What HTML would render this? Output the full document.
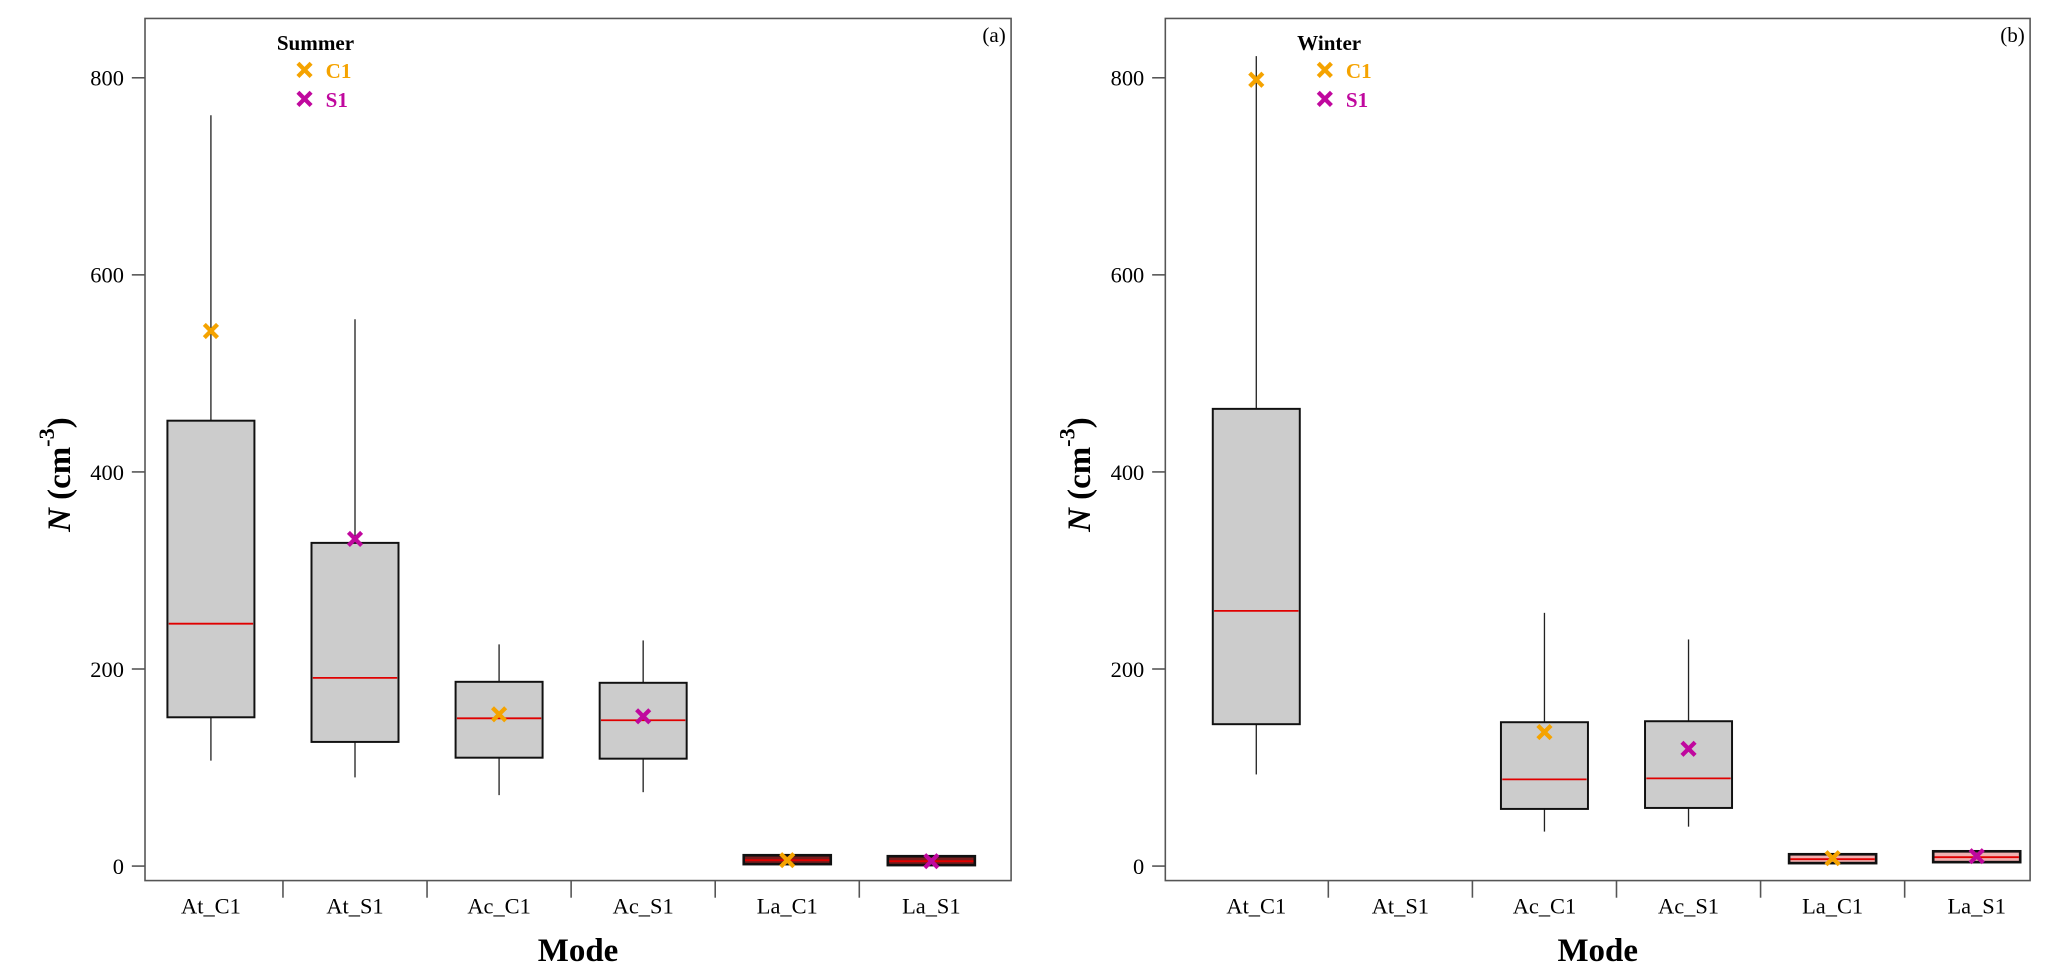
<!DOCTYPE html>
<html><head><meta charset="utf-8"><style>
html,body{margin:0;padding:0;background:#fff;}
svg{display:block;font-family:"Liberation Serif",serif;}
</style></head><body>
<svg id="chart" width="2067" height="979" viewBox="0 0 1568 742.66" preserveAspectRatio="none" xmlns="http://www.w3.org/2000/svg"></svg>
<script>
const categories = ["At_C1","At_S1","Ac_C1","Ac_S1","La_C1","La_S1"];
const yTicks = [0,200,400,600,800];
const summerLow = [107,90,72,75,2,1];
const summerQ1 = [151,126,110,109,2,1];
const summerMed = [246,191,150,148,6,5];
const summerQ3 = [452,328,187,186,11,10];
const summerHigh = [762,555,225,229,11,10];
const summerMean = [543,332,154,152,6,5];
const winterLow = [93,null,35,40,3,4];
const winterQ1 = [144,null,58,59,3,4];
const winterMed = [259,null,88,89,7,9];
const winterQ3 = [464,null,146,147,12,15];
const winterHigh = [822,null,257,230,12,15];
const winterMean = [798,null,136,119,8,10];
const meanCat = ["C1","S1","C1","S1","C1","S1"];

const NS="http://www.w3.org/2000/svg";
const svg=document.getElementById('chart');
function mk(tag,attrs,parent){const e=document.createElementNS(NS,tag);for(const k in attrs)e.setAttribute(k,attrs[k]);(parent||svg).appendChild(e);return e;}
const Y0=657, Y800=59;
function yS(v){return Y0-(v/800)*(Y0-Y800);}
const colors={C1:"#f5a300",S1:"#c0089e"};

function drawX(g,x,y,col,name){
  const p=mk('path',{d:`M${x-5},${y-5}L${x+5},${y+5}M${x-5},${y+5}L${x+5},${y-5}`,stroke:col,'stroke-width':3.2,fill:'none'},g);
  
  
}

function panel(left,right,firstC,season,tag,low,q1,med,q3,high,mean,smallFill){
  const g=mk('g',{});
  
  
  const step=109.3;
  function xS(i){return firstC+step*i;}
  const fr=mk('rect',{x:left,y:14,width:right-left,height:654,fill:'none',stroke:'#555','stroke-width':1.2},g);
  
  
  yTicks.forEach(t=>{
    const l=mk('line',{x1:left-10,x2:left,y1:yS(t),y2:yS(t),stroke:'#555','stroke-width':1.2},g);
    
    
    const tx=mk('text',{x:left-16,y:yS(t)+6,'text-anchor':'end','font-size':17},g);
    tx.textContent=t;
    
    
  });
  categories.forEach((c,i)=>{
    const x=xS(i);
    if(i<categories.length-1){
      const l=mk('line',{x1:x+step/2,x2:x+step/2,y1:668,y2:681,stroke:'#555','stroke-width':1.2},g);
      
      
    }
    const tx=mk('text',{x:x,y:693,'text-anchor':'middle','font-size':17},g);
    tx.textContent=c;
    
    
    if(q1[i]==null)return;
    const hw=33;
    const w1=mk('line',{x1:x,x2:x,y1:yS(high[i]),y2:yS(q3[i]),stroke:'#222','stroke-width':1},g);
    
    
    const w2=mk('line',{x1:x,x2:x,y1:yS(q1[i]),y2:yS(low[i]),stroke:'#222','stroke-width':1},g);
    
    
    const small=(q3[i]-q1[i])<30;
    const b=mk('rect',{x:x-hw,y:yS(q3[i]),width:hw*2,height:Math.max(1,yS(q1[i])-yS(q3[i])),fill:small?smallFill:'#cccccc',stroke:'#111','stroke-width':small?2:1.5},g);
    
    
    const m=mk('line',{x1:x-hw+1,x2:x+hw-1,y1:yS(med[i]),y2:yS(med[i]),stroke:'#e00000','stroke-width':1.4},g);
    
    
    drawX(g,x,yS(mean[i]),colors[meanCat[i]],'mean-marker');
  });
  const lx=left+100;
  const lt=mk('text',{x:lx,y:38,'font-size':16,'font-weight':'bold'},g);
  lt.textContent=season;
  
  
  [["C1",53],["S1",75]].forEach(([k,y])=>{
    drawX(g,lx+21,y,colors[k],'legend-marker');
    const t=mk('text',{x:lx+37,y:y+6,'font-size':16,'font-weight':'bold',fill:colors[k]},g);
    t.textContent=k;
    
    
  });
  const pt=mk('text',{x:right-4,y:32,'text-anchor':'end','font-size':16},g);
  pt.textContent=tag;
  
  
  const xt=mk('text',{x:(left+right)/2,y:729,'text-anchor':'middle','font-size':25,'font-weight':'bold'},g);
  xt.textContent="Mode";
  
  
  const yt=mk('text',{transform:`translate(${left-57},360) rotate(-90)`,'text-anchor':'middle','font-size':25,'font-weight':'bold'},g);
  yt.innerHTML='<tspan font-style="italic">N</tspan> (cm<tspan dy="-12" font-size="17">-3</tspan><tspan dy="12">)</tspan>';
  
  
}
panel(110,767,160,"Summer","(a)",summerLow,summerQ1,summerMed,summerQ3,summerHigh,summerMean,'#7a1c1c');
panel(884,1540,953,"Winter","(b)",winterLow,winterQ1,winterMed,winterQ3,winterHigh,winterMean,'#f0b0b0');
</script>
</body></html>
